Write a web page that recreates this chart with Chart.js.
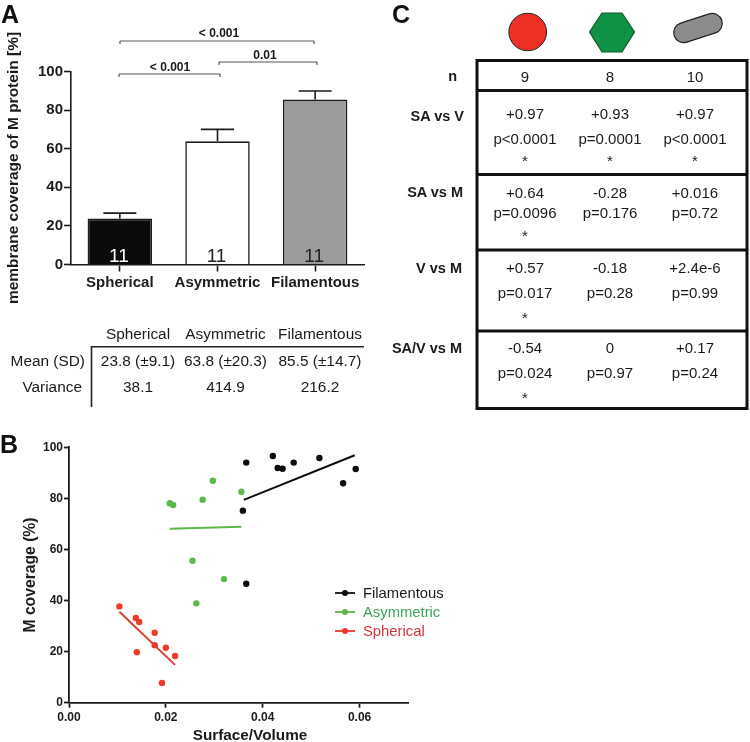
<!DOCTYPE html>
<html><head><meta charset="utf-8">
<script src="https://cdn.jsdelivr.net/npm/chart.js@4"></script>
<style>
html,body{margin:0;padding:0;background:#fff;}
#page{position:relative;width:750px;height:742px;overflow:hidden;font-family:"Liberation Sans",Arial,sans-serif;color:#1a1a1a;}
#page canvas{position:absolute;}
.t{position:absolute;white-space:nowrap;line-height:1;font-size:15px;transform:translate(-50%,-50%);}
.r{transform:translate(-100%,-50%);}
.b{font-weight:bold;}
.p{font-weight:bold;font-size:25px;color:#111;transform:translate(0,-50%);}
svg{position:absolute;left:0;top:0;}
</style></head><body>
<div id="page">
<canvas id="a" width="375" height="310" style="left:0;top:0"></canvas>
<canvas id="b" width="450" height="312" style="left:0;top:430px"></canvas>
<svg id="ov" width="750" height="742"></svg>
</div>
<script>
// Panel A
const categories=["Spherical","Asymmetric","Filamentous"];
const meanCoverage=[23.8,63.8,85.5];
const semCoverage=[2.8,6.2,4.4];
const barCounts=["11","11","11"];
const barFill=["#0a0a0a","#ffffff","#9b9b9b"];
const barText=["#ffffff","#222222","#222222"];
const yTicksA=[0,20,40,60,80,100];
// Panel A table
const tableRows=["Mean (SD)","Variance"];
const meanSd=["23.8 (±9.1)","63.8 (±20.3)","85.5 (±14.7)"];
const variance=["38.1","414.9","216.2"];
// Panel B
const filX=[.0366,.0421,.0431,.0441,.0464,.0517,.0592,.0566,.0359,.0366];
const filY=[94,96.6,91.9,91.6,94,95.8,91.5,85.9,75.2,46.6];
const asyX=[.0208,.0215,.0276,.0297,.0255,.0263,.0320,.0356];
const asyY=[78.1,77.4,79.5,86.9,55.6,38.9,48.4,82.6];
const sphX=[.0104,.0138,.0145,.0177,.0140,.0177,.0200,.0219,.0192];
const sphY=[37.7,33.2,31.6,27.4,19.8,22.5,21.5,18.3,7.7];
const filFitX=[.0361,.0590], filFitY=[79.4,96.9];
const asyFitX=[.0208,.0356], asyFitY=[68.1,68.9];
const sphFitX=[.0104,.0219], sphFitY=[35.6,14.8];
// Panel C
const rowLabels=["n","SA vs V","SA vs M","V vs M","SA/V vs M"];
const nRow=["9","8","10"];
const r1=[["+0.97","p<0.0001","*"],["+0.93","p=0.0001","*"],["+0.97","p<0.0001","*"]];
const r2=[["+0.64","p=0.0096","*"],["-0.28","p=0.176",""],["+0.016","p=0.72",""]];
const r3=[["+0.57","p=0.017","*"],["-0.18","p=0.28",""],["+2.4e-6","p=0.99",""]];
const r4=[["-0.54","p=0.024","*"],["0","p=0.97",""],["+0.17","p=0.24",""]];
const toPts=(xs,ys)=>xs.map((x,i)=>({x,y:ys[i]}));

const page=document.getElementById('page');
function txt(s,x,y,cls,extra){const d=document.createElement('div');d.className='t '+(cls||'');d.textContent=s;d.style.left=x+'px';d.style.top=y+'px';if(extra)Object.assign(d.style,extra);page.appendChild(d);return d;}

const INK="#1c1c1c";
const errPlugin={id:'err',afterDatasetsDraw(c){
  const {ctx,scales:{x,y}}=c;ctx.save();
  meanCoverage.forEach((m,i)=>{
    const px=x.getPixelForValue(i),t=y.getPixelForValue(m+semCoverage[i]),b=y.getPixelForValue(m);
    ctx.strokeStyle=INK;ctx.lineWidth=1.6;
    ctx.beginPath();ctx.moveTo(px,b);ctx.lineTo(px,t);ctx.moveTo(px-16.5,t);ctx.lineTo(px+16.5,t);ctx.stroke();
    ctx.fillStyle=barText[i];ctx.font='19px "Liberation Sans"';ctx.textAlign='center';ctx.textBaseline='alphabetic';
    ctx.fillText(barCounts[i],px-1,y.getPixelForValue(0)-3);
  });ctx.restore();}};

const fix=(w,h)=>function(s){if(w!=null)s.width=w;if(h!=null)s.height=h;};
new Chart(document.getElementById('a'),{type:'bar',
 data:{labels:categories,datasets:[{data:meanCoverage,backgroundColor:barFill,borderColor:INK,borderWidth:1.6,barPercentage:.66,categoryPercentage:1}]},
 options:{responsive:false,animation:false,layout:{padding:{left:0,right:11,top:71.5,bottom:0}},
  plugins:{legend:{display:false},tooltip:{enabled:false}},
  scales:{
   x:{afterFit:fix(null,45.5),grid:{offset:false,drawOnChartArea:false,tickLength:7,tickWidth:1.6,tickColor:INK},border:{color:INK,width:1.6},
      ticks:{color:INK,padding:2,maxRotation:0,font:{family:'Liberation Sans',weight:'bold',size:15}}},
   y:{min:0,max:100,afterFit:fix(71,null),afterBuildTicks(s){s.ticks=yTicksA.map(v=>({value:v}));},
      grid:{drawOnChartArea:false,tickLength:7,tickWidth:1.6,tickColor:INK},border:{color:INK,width:1.6},
      ticks:{color:INK,padding:1,font:{family:'Liberation Sans',weight:'bold',size:15}},
      title:{display:true,text:'membrane coverage of M protein [%]',color:INK,padding:{top:4,bottom:0},font:{family:'Liberation Sans',weight:'bold',size:15.5}}}
  }},plugins:[errPlugin]});

const fitDs=(xs,ys,col)=>({type:'scatter',data:toPts(xs,ys),showLine:true,borderColor:col,borderWidth:2,pointRadius:0,fill:false});
const ptDs=(xs,ys,col)=>({type:'scatter',data:toPts(xs,ys),showLine:false,backgroundColor:col,borderColor:col,pointRadius:3.2,borderWidth:0});
const RED="#ec3a2c",GRN="#5cb848",BLK="#0d0d0d";
new Chart(document.getElementById('b'),{type:'scatter',
 data:{datasets:[fitDs(filFitX,filFitY,BLK),fitDs(asyFitX,asyFitY,GRN),fitDs(sphFitX,sphFitY,"#dc3f2e"),ptDs(filX,filY,BLK),ptDs(asyX,asyY,GRN),ptDs(sphX,sphY,RED)]},
 options:{responsive:false,animation:false,layout:{padding:{left:0,right:42,top:17.3,bottom:0}},
  plugins:{legend:{display:false},tooltip:{enabled:false}},
  scales:{
   x:{type:'linear',min:0,max:.07,afterFit:fix(null,39.3),afterBuildTicks(s){s.ticks=[0,.02,.04,.06].map(v=>({value:v}));},
      grid:{drawOnChartArea:false,tickLength:5,tickWidth:1.8,tickColor:INK},border:{color:INK,width:1.8},
      ticks:{color:INK,padding:3,maxRotation:0,callback:v=>v.toFixed(2),font:{family:'Liberation Sans',weight:'bold',size:12}}},
   y:{min:0,max:100,afterFit:fix(69,null),afterBuildTicks(s){s.ticks=[0,20,40,60,80,100].map(v=>({value:v}));},
      grid:{drawOnChartArea:false,tickLength:5,tickWidth:1.8,tickColor:INK},border:{color:INK,width:1.8},
      ticks:{color:INK,padding:1,font:{family:'Liberation Sans',weight:'bold',size:12}},
      title:{display:true,text:'M coverage (%)',color:INK,padding:{top:21,bottom:0},font:{family:'Liberation Sans',weight:'bold',size:15.7}}}
  }}});
txt('Surface/Volume',250,735,'b',{fontSize:'15.3px'});

// Panel labels
txt('A',1,14,'p');txt('B',0,444,'p');txt('C',392,14,'p');

// Brackets and shapes
const svg=document.getElementById('ov');
const seg=[[120,44,120,41],[120,41,314,41],[314,41,314,44],[119,77,119,74],[119,74,220,74],[220,74,220,77],[219,65,219,62],[219,62,317,62],[317,62,317,65]];
let s=seg.map(a=>`<line x1="${a[0]}" y1="${a[1]}" x2="${a[2]}" y2="${a[3]}" stroke="#555" stroke-width="1.2"/>`).join('');
s+=`<path d="M91.5 407V346.8H364" fill="none" stroke="#222" stroke-width="1.6"/>`;
s+=`<circle cx="527.7" cy="32" r="18.8" fill="#ee3124" stroke="#222" stroke-width="1"/>`;
s+=`<polygon points="589.5,32 602,13 622,13 634.5,32 622,52 602,52" fill="#0f9146" stroke="#0b5a2c" stroke-width="1.2"/>`;
s+=`<rect x="673" y="18" width="50" height="20" rx="10" transform="rotate(-18 698 28)" fill="#8c8c8c" stroke="#222" stroke-width="1.2"/>`;
s+=`<rect x="477" y="60.5" width="270" height="348" fill="none" stroke="#111" stroke-width="3"/>`;
[90.5,174.5,250,331].forEach(y=>{s+=`<line x1="477" x2="747" y1="${y}" y2="${y}" stroke="#111" stroke-width="3"/>`;});
[[593,BLK],[612,GRN],[631,RED]].forEach(a=>{s+=`<line x1="335" x2="355" y1="${a[0]}" y2="${a[0]}" stroke="${a[1]}" stroke-width="1.8"/><circle cx="345" cy="${a[0]}" r="3" fill="${a[1]}"/>`;});
svg.innerHTML=s;

txt('< 0.001',219,33,'b',{fontSize:'12px'});
txt('< 0.001',170,67,'b',{fontSize:'12px'});
txt('0.01',265,55,'b',{fontSize:'12px'});

const colA=[138,225.5,320];
categories.forEach((c,i)=>{txt(c,colA[i],334,'',{fontSize:'15.4px'});txt(meanSd[i],colA[i],361,'',{fontSize:'15.4px'});txt(variance[i],colA[i],387,'',{fontSize:'15.4px'});});
txt(tableRows[0],85,361,'r',{fontSize:'15.4px'});txt(tableRows[1],82,387,'r',{fontSize:'15.4px'});

txt('Filamentous',363,593,'',{transform:'translate(0,-50%)',fontSize:'14.8px'});
txt('Asymmetric',363,612,'',{transform:'translate(0,-50%)',fontSize:'14.8px',color:'#3aa655'});
txt('Spherical',363,631,'',{transform:'translate(0,-50%)',fontSize:'14.8px',color:'#d0343a'});

const colC=[525,610,695];
const rowR=[457,464,463,462,462], rowY=[76,116,192,268,348];
rowLabels.forEach((l,i)=>txt(l,rowR[i],rowY[i],'b r',{fontSize:'14.5px'}));
nRow.forEach((v,i)=>txt(v,colC[i],76));
[[r1,113,138,158],[r2,192,212,233],[r3,267,292,315],[r4,347,372,395]].forEach(([r,a,b,c])=>{
  r.forEach((cell,i)=>{txt(cell[0],colC[i],a);txt(cell[1],colC[i],b);if(cell[2])txt(cell[2],colC[i],c+2);});
});
</script>
</body></html>
